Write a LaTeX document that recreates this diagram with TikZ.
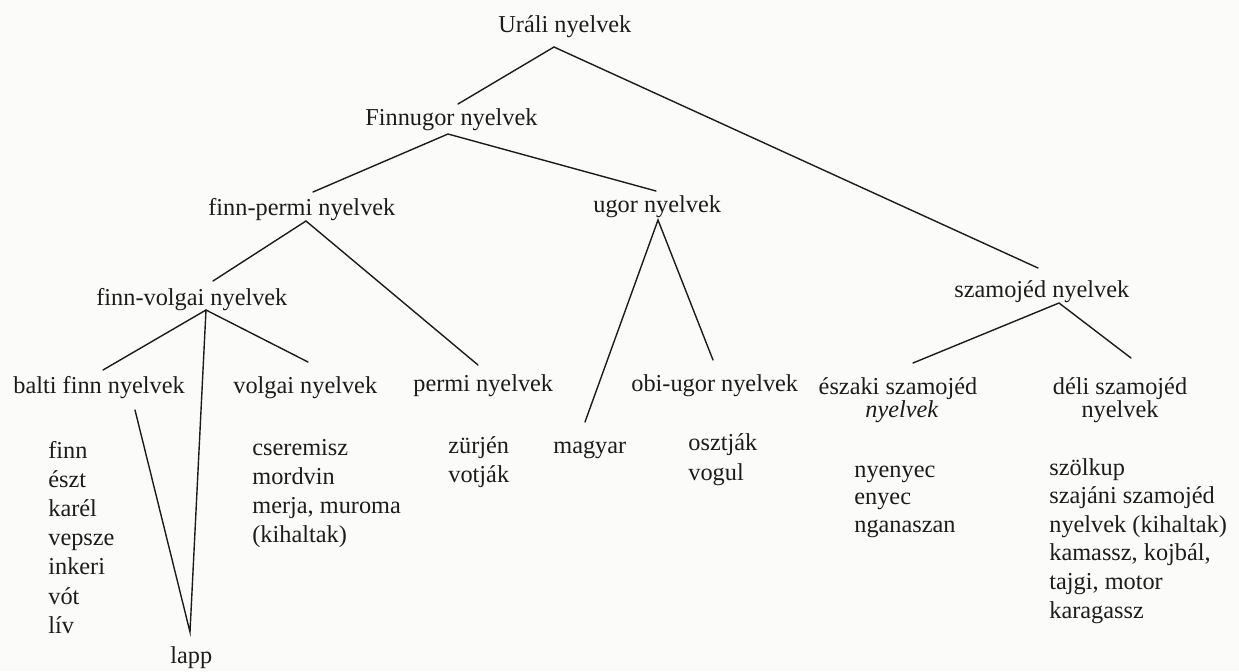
\documentclass[tikz,border=0pt]{standalone}
\usepackage{fontspec}
\setmainfont{Liberation Serif}
\definecolor{ink}{RGB}{28,28,28}
\definecolor{paper}{RGB}{251,251,249}
\begin{document}
\begin{tikzpicture}[x=0.5pt,y=-0.5pt,
  lbl/.style={inner sep=0pt, anchor=base west, font=\fontsize{12.15}{14}\selectfont, text=ink},
  clbl/.style={lbl, anchor=base},
  branch/.style={draw=ink, line width=0.7pt, line cap=round}]
\fill[paper] (0,0) rectangle (1239,671);
\useasboundingbox (0,0) rectangle (1239,671);

% inner nodes
\node[lbl] (U)  at (498,32)  {Uráli nyelvek};
\node[lbl] (F)  at (365,125) {Finnugor nyelvek};
\node[lbl] (FP) at (208,215) {finn-permi nyelvek};
\node[lbl] (UG) at (593,212) {ugor nyelvek};
\node[lbl] (S)  at (954,297) {szamojéd nyelvek};
\node[lbl] (FV) at (96,305)  {finn-volgai nyelvek};
\node[lbl] (B)  at (13,393)  {balti finn nyelvek};
\node[lbl] (V)  at (233,393) {volgai nyelvek};
\node[lbl] (P)  at (413,391) {permi nyelvek};
\node[lbl] (OU) at (631,391) {obi-ugor nyelvek};
\node[clbl] (E1) at (898,394) {északi szamojéd};
\node[clbl] (E2) at (902,417) {\textit{nyelvek}};
\node[clbl] (D1) at (1120,394) {déli szamojéd};
\node[clbl] (D2) at (1120,417) {nyelvek};
\node[lbl] (L)  at (170,663) {lapp};
\node[lbl] (M)  at (553,453) {magyar};

% leaf lists
\foreach \t [count=\i] in {finn,észt,karél,vepsze,inkeri,vót,lív}
  \node[lbl] (bf\i) at (48,{458+29.2*(\i-1)}) {\t};
\foreach \t [count=\i] in {cseremisz,mordvin,{merja, muroma},(kihaltak)}
  \node[lbl] (vl\i) at (252,{455+29.3*(\i-1)}) {\t};
\foreach \t [count=\i] in {zürjén,votják}
  \node[lbl] (pl\i) at (448,{453+29*(\i-1)}) {\t};
\foreach \t [count=\i] in {osztják,vogul}
  \node[lbl] (ol\i) at (688,{450+30*(\i-1)}) {\t};
\foreach \t [count=\i] in {nyenyec,enyec,nganaszan}
  \node[lbl] (el\i) at (854,{477+27.5*(\i-1)}) {\t};
\foreach \t [count=\i] in {szölkup,szajáni szamojéd,nyelvek (kihaltak),{kamassz, kojbál,},{tajgi, motor},karagassz}
  \node[lbl] (dl\i) at (1049,{475+28.6*(\i-1)}) {\t};

% branch points
\coordinate (aU)  at (554,47);
\coordinate (aF)  at (448,134);
\coordinate (aFP) at (306,221);
\coordinate (aUG) at (658,220);
\coordinate (aFV) at (206,310);
\coordinate (aS)  at (1059,303);
\coordinate (eF)  at (458,104);
\coordinate (eS)  at (1038,268);
\coordinate (eFP) at (313,192);
\coordinate (eUG) at (656,191);
\coordinate (eFV) at (213,281);
\coordinate (eP)  at (478,365);
\coordinate (eM)  at (585,422);
\coordinate (eOU) at (713,360);
\coordinate (eB)  at (103,370);
\coordinate (eV)  at (308,362);
\coordinate (eL)  at (190,632);
\coordinate (eBL) at (135,410);
\coordinate (eE)  at (913,363);
\coordinate (eD)  at (1131,358);

\draw[branch] (eF) -- (aU) -- (eS);
\draw[branch] (eFP) -- (aF) -- (eUG);
\draw[branch] (eFV) -- (aFP) -- (eP);
\draw[branch] (eM) -- (aUG) -- (eOU);
\draw[branch] (eB) -- (aFV) -- (eV);
\draw[branch] (aFV) -- (eL) -- (eBL);
\draw[branch] (eE) -- (aS) -- (eD);
\end{tikzpicture}
\end{document}
